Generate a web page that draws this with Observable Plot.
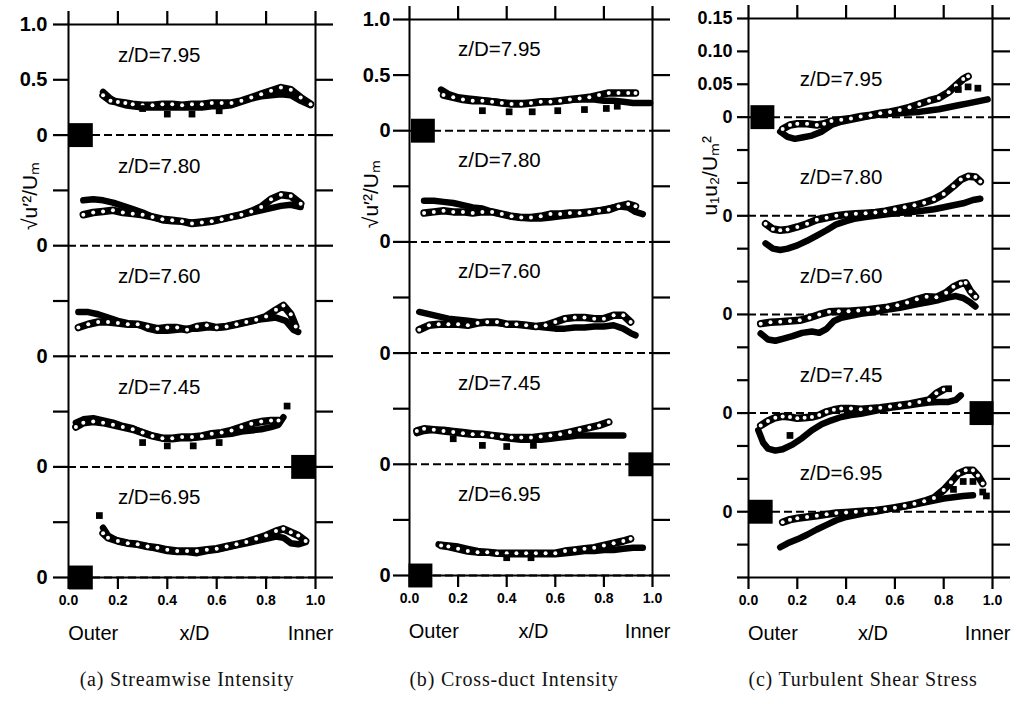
<!DOCTYPE html>
<html><head><meta charset="utf-8">
<script src="https://cdn.jsdelivr.net/npm/d3@7"></script>
<script src="https://cdn.jsdelivr.net/npm/@observablehq/plot@0.6"></script>
<style>
body{margin:0;background:#fff;}
#wrap{position:relative;width:1018px;height:704px;overflow:hidden;background:#fff;}
.panel{position:absolute;top:0;}
.cap{position:absolute;top:668px;font-family:"Liberation Serif","Times New Roman",serif;font-size:20px;color:#111;transform:translateX(-50%);white-space:nowrap;letter-spacing:0.8px;}
</style></head><body><div id="wrap"></div>
<script>
// ---------- labels & ticks ----------
const profiles = ["7.95", "7.80", "7.60", "7.45", "6.95"];
const xTicks = [0, 0.2, 0.4, 0.6, 0.8, 1.0];
const xTickLabels = ["0.0", "0.2", "0.4", "0.6", "0.8", "1.0"];
const abTicks = [1, 0.5, 0, -0.5, -1, -1.5, -2, -2.5, -3, -3.5, -4];
const abTickLabels = ["1.0", "0.5", "0", "", "0", "", "0", "", "0", "", "0"];
const cTicks = [0.15, 0.10, 0.05, 0, -0.05, -0.10, -0.15, -0.20, -0.25, -0.30, -0.35, -0.40, -0.45, -0.50, -0.55, -0.60, -0.65, -0.70];
const cTickLabels = ["0.15", "0.10", "0.05", "0", "", "", "0", "", "", "0", "", "", "0", "", "", "0", "", ""];
const abOffsets = [0, -1, -2, -3, -4];
const cOffsets = [0, -0.15, -0.30, -0.45, -0.60];
const bottomWords = ["Outer", "x/D", "Inner"];
const bottomWordX = [0.10, 0.51, 0.98];
const captions = ["(a) Streamwise Intensity", "(b) Cross-duct Intensity", "(c) Turbulent Shear Stress"];

// ---------- (a) streamwise intensity: [x/D, value] ----------
const a795open = [[0.14,0.36],[0.17,0.31],[0.20,0.30],[0.23,0.29],[0.26,0.28],[0.30,0.27],[0.34,0.27],[0.38,0.28],[0.42,0.28],[0.46,0.27],[0.50,0.28],[0.54,0.28],[0.58,0.29],[0.62,0.29],[0.66,0.29],[0.70,0.31],[0.74,0.34],[0.78,0.37],[0.82,0.40],[0.86,0.43],[0.90,0.41],[0.94,0.34],[0.98,0.28]];
const a795filled = [[0.14,0.39],[0.17,0.33],[0.20,0.29],[0.23,0.27],[0.26,0.26],[0.30,0.25],[0.34,0.25],[0.38,0.25],[0.42,0.25],[0.46,0.25],[0.50,0.25],[0.54,0.25],[0.58,0.26],[0.62,0.26],[0.66,0.27],[0.70,0.30],[0.74,0.33],[0.78,0.35],[0.82,0.36],[0.86,0.37],[0.90,0.36],[0.94,0.31],[0.98,0.27]];
const a780open = [[0.06,0.28],[0.10,0.30],[0.14,0.31],[0.18,0.32],[0.22,0.30],[0.26,0.29],[0.30,0.28],[0.34,0.26],[0.38,0.24],[0.42,0.23],[0.46,0.22],[0.50,0.20],[0.54,0.21],[0.58,0.22],[0.62,0.24],[0.66,0.26],[0.70,0.28],[0.74,0.31],[0.78,0.35],[0.82,0.42],[0.86,0.46],[0.90,0.45],[0.94,0.38]];
const a780filled = [[0.06,0.41],[0.10,0.42],[0.14,0.41],[0.18,0.39],[0.22,0.36],[0.26,0.33],[0.30,0.30],[0.34,0.26],[0.38,0.23],[0.42,0.22],[0.46,0.22],[0.50,0.21],[0.54,0.22],[0.58,0.23],[0.62,0.24],[0.66,0.26],[0.70,0.28],[0.74,0.30],[0.78,0.32],[0.82,0.34],[0.86,0.36],[0.90,0.37],[0.94,0.35]];
const a760open = [[0.04,0.26],[0.08,0.29],[0.12,0.31],[0.16,0.31],[0.20,0.30],[0.24,0.29],[0.28,0.29],[0.32,0.27],[0.36,0.25],[0.40,0.26],[0.44,0.26],[0.48,0.24],[0.52,0.27],[0.56,0.28],[0.60,0.26],[0.64,0.27],[0.68,0.29],[0.72,0.31],[0.76,0.33],[0.80,0.36],[0.84,0.42],[0.87,0.46],[0.90,0.38],[0.92,0.27]];
const a760filled = [[0.04,0.40],[0.08,0.40],[0.12,0.38],[0.16,0.35],[0.20,0.32],[0.24,0.30],[0.28,0.29],[0.32,0.25],[0.36,0.23],[0.40,0.23],[0.44,0.24],[0.48,0.25],[0.52,0.25],[0.56,0.26],[0.60,0.26],[0.64,0.27],[0.68,0.29],[0.72,0.31],[0.76,0.33],[0.80,0.34],[0.84,0.35],[0.88,0.32],[0.91,0.24],[0.93,0.22]];
const a745open = [[0.03,0.36],[0.06,0.40],[0.10,0.41],[0.14,0.40],[0.18,0.38],[0.22,0.36],[0.26,0.34],[0.30,0.31],[0.34,0.28],[0.38,0.26],[0.42,0.26],[0.46,0.27],[0.50,0.27],[0.54,0.28],[0.58,0.30],[0.62,0.31],[0.66,0.33],[0.70,0.36],[0.74,0.39],[0.78,0.41],[0.82,0.42],[0.85,0.42]];
const a745filled = [[0.03,0.40],[0.06,0.43],[0.10,0.44],[0.14,0.42],[0.18,0.40],[0.22,0.37],[0.26,0.35],[0.30,0.31],[0.34,0.28],[0.38,0.26],[0.42,0.25],[0.46,0.26],[0.50,0.26],[0.54,0.27],[0.58,0.28],[0.62,0.29],[0.66,0.30],[0.70,0.32],[0.74,0.33],[0.78,0.34],[0.82,0.36],[0.85,0.38],[0.87,0.45]];
const a695open = [[0.14,0.40],[0.16,0.36],[0.20,0.33],[0.24,0.31],[0.28,0.30],[0.32,0.28],[0.36,0.27],[0.40,0.25],[0.44,0.24],[0.48,0.24],[0.52,0.24],[0.56,0.25],[0.60,0.26],[0.64,0.28],[0.68,0.30],[0.72,0.32],[0.76,0.35],[0.80,0.38],[0.84,0.42],[0.87,0.44],[0.90,0.41],[0.93,0.38],[0.96,0.33]];
const a695filled = [[0.14,0.45],[0.16,0.38],[0.20,0.33],[0.24,0.31],[0.28,0.30],[0.32,0.28],[0.36,0.26],[0.40,0.24],[0.44,0.23],[0.48,0.23],[0.52,0.22],[0.56,0.24],[0.60,0.25],[0.64,0.27],[0.68,0.29],[0.72,0.31],[0.76,0.33],[0.80,0.35],[0.84,0.37],[0.87,0.36],[0.90,0.31],[0.93,0.30],[0.96,0.32]];
// isolated square symbols: [profile index, x/D, value]
const aSquares = [[0,0.30,0.24],[0,0.40,0.19],[0,0.50,0.19],[0,0.61,0.22],[3,0.30,0.22],[3,0.40,0.19],[3,0.505,0.19],[3,0.61,0.22],[3,0.885,0.55],[4,0.125,0.56]];
// large reference squares: [x/D, profile index]
const aBig = [[0.05,0],[0.95,3],[0.05,4]];

// ---------- (b) cross-duct intensity ----------
const b795open = [[0.14,0.32],[0.18,0.30],[0.22,0.28],[0.26,0.27],[0.30,0.27],[0.34,0.26],[0.38,0.25],[0.42,0.24],[0.46,0.24],[0.50,0.25],[0.54,0.26],[0.58,0.26],[0.62,0.27],[0.66,0.28],[0.70,0.29],[0.74,0.30],[0.78,0.32],[0.82,0.34],[0.86,0.34],[0.90,0.34],[0.93,0.34]];
const b795filled = [[0.13,0.37],[0.16,0.33],[0.20,0.30],[0.24,0.29],[0.28,0.28],[0.32,0.27],[0.36,0.26],[0.40,0.25],[0.44,0.25],[0.48,0.25],[0.52,0.25],[0.56,0.26],[0.60,0.26],[0.64,0.27],[0.68,0.28],[0.72,0.28],[0.76,0.28],[0.80,0.27],[0.84,0.27],[0.88,0.26],[0.92,0.25],[0.96,0.25],[0.99,0.25]];
const b780open = [[0.06,0.26],[0.10,0.27],[0.14,0.28],[0.18,0.27],[0.22,0.27],[0.26,0.26],[0.30,0.27],[0.34,0.27],[0.38,0.25],[0.42,0.23],[0.46,0.22],[0.50,0.22],[0.54,0.23],[0.58,0.25],[0.62,0.25],[0.66,0.26],[0.70,0.26],[0.74,0.27],[0.78,0.28],[0.82,0.29],[0.86,0.32],[0.90,0.34],[0.93,0.32]];
const b780filled = [[0.06,0.37],[0.10,0.37],[0.14,0.36],[0.18,0.35],[0.22,0.33],[0.26,0.31],[0.30,0.30],[0.34,0.27],[0.38,0.25],[0.42,0.23],[0.46,0.22],[0.50,0.21],[0.54,0.21],[0.58,0.22],[0.62,0.23],[0.66,0.24],[0.70,0.25],[0.74,0.26],[0.78,0.28],[0.82,0.30],[0.86,0.32],[0.90,0.31],[0.93,0.27],[0.96,0.25]];
const b760open = [[0.04,0.21],[0.08,0.25],[0.12,0.26],[0.16,0.26],[0.20,0.26],[0.24,0.25],[0.28,0.27],[0.32,0.28],[0.36,0.28],[0.40,0.26],[0.44,0.26],[0.48,0.25],[0.52,0.24],[0.56,0.25],[0.60,0.28],[0.64,0.31],[0.68,0.32],[0.72,0.32],[0.76,0.31],[0.80,0.31],[0.84,0.34],[0.88,0.34],[0.91,0.28]];
const b760filled = [[0.04,0.37],[0.08,0.35],[0.12,0.33],[0.16,0.31],[0.20,0.30],[0.24,0.29],[0.28,0.28],[0.32,0.27],[0.36,0.27],[0.40,0.26],[0.44,0.26],[0.48,0.25],[0.52,0.24],[0.56,0.23],[0.60,0.22],[0.64,0.22],[0.68,0.23],[0.72,0.23],[0.76,0.24],[0.80,0.24],[0.84,0.25],[0.88,0.22],[0.91,0.18],[0.93,0.16]];
const b745open = [[0.03,0.30],[0.06,0.32],[0.10,0.31],[0.14,0.30],[0.18,0.29],[0.22,0.28],[0.26,0.27],[0.30,0.27],[0.34,0.26],[0.38,0.25],[0.42,0.24],[0.46,0.24],[0.50,0.24],[0.54,0.25],[0.58,0.26],[0.62,0.27],[0.66,0.29],[0.70,0.31],[0.74,0.33],[0.78,0.35],[0.82,0.38]];
const b745filled = [[0.03,0.28],[0.06,0.30],[0.10,0.31],[0.14,0.31],[0.18,0.30],[0.22,0.29],[0.26,0.28],[0.30,0.27],[0.34,0.26],[0.38,0.24],[0.42,0.23],[0.46,0.22],[0.50,0.22],[0.54,0.22],[0.58,0.23],[0.62,0.24],[0.66,0.25],[0.70,0.26],[0.74,0.26],[0.78,0.26],[0.82,0.26],[0.86,0.26],[0.88,0.26]];
const b695open = [[0.13,0.27],[0.16,0.26],[0.20,0.24],[0.24,0.22],[0.28,0.21],[0.32,0.21],[0.36,0.20],[0.40,0.20],[0.44,0.20],[0.48,0.20],[0.52,0.20],[0.56,0.20],[0.60,0.20],[0.64,0.22],[0.68,0.23],[0.72,0.24],[0.76,0.25],[0.80,0.27],[0.84,0.29],[0.88,0.31],[0.91,0.33]];
const b695filled = [[0.12,0.28],[0.16,0.27],[0.20,0.26],[0.24,0.24],[0.28,0.22],[0.32,0.21],[0.36,0.20],[0.40,0.19],[0.44,0.19],[0.48,0.19],[0.52,0.19],[0.56,0.19],[0.60,0.19],[0.64,0.20],[0.68,0.21],[0.72,0.22],[0.76,0.22],[0.80,0.23],[0.84,0.23],[0.88,0.24],[0.92,0.25],[0.96,0.25]];
const bSquares = [[0,0.30,0.18],[0,0.41,0.17],[0,0.505,0.17],[0,0.61,0.18],[0,0.72,0.19],[0,0.81,0.20],[0,0.855,0.22],[3,0.18,0.23],[3,0.30,0.17],[3,0.40,0.16],[3,0.51,0.17],[4,0.40,0.16],[4,0.50,0.16]];
const bBig = [[0.055,0],[0.95,3],[0.045,4]];

// ---------- (c) turbulent shear stress ----------
const c795open = [[0.14,-0.018],[0.17,-0.012],[0.20,-0.010],[0.24,-0.010],[0.28,-0.012],[0.31,-0.010],[0.34,-0.006],[0.38,-0.004],[0.42,-0.002],[0.46,0.001],[0.50,0.003],[0.54,0.006],[0.58,0.008],[0.62,0.011],[0.66,0.015],[0.70,0.020],[0.74,0.025],[0.78,0.029],[0.82,0.038],[0.85,0.048],[0.88,0.058],[0.90,0.062]];
const c795filled = [[0.13,-0.022],[0.16,-0.030],[0.19,-0.033],[0.22,-0.031],[0.26,-0.028],[0.30,-0.022],[0.34,-0.012],[0.38,-0.007],[0.42,-0.004],[0.46,-0.001],[0.50,0.002],[0.54,0.004],[0.58,0.005],[0.62,0.006],[0.66,0.007],[0.70,0.008],[0.74,0.010],[0.78,0.012],[0.82,0.015],[0.86,0.018],[0.90,0.021],[0.94,0.024],[0.98,0.027]];
const c780open = [[0.07,-0.012],[0.10,-0.020],[0.13,-0.022],[0.16,-0.021],[0.20,-0.017],[0.24,-0.012],[0.28,-0.006],[0.32,-0.003],[0.36,0.000],[0.40,0.002],[0.44,0.003],[0.48,0.004],[0.52,0.005],[0.56,0.007],[0.60,0.010],[0.64,0.013],[0.68,0.016],[0.72,0.020],[0.76,0.025],[0.80,0.033],[0.84,0.045],[0.87,0.055],[0.90,0.060],[0.93,0.059],[0.95,0.052]];
const c780filled = [[0.07,-0.042],[0.10,-0.050],[0.13,-0.052],[0.16,-0.050],[0.20,-0.045],[0.24,-0.038],[0.28,-0.030],[0.32,-0.022],[0.36,-0.013],[0.40,-0.008],[0.44,-0.004],[0.48,-0.002],[0.52,0.000],[0.56,0.002],[0.60,0.004],[0.64,0.005],[0.68,0.006],[0.72,0.008],[0.76,0.010],[0.80,0.013],[0.84,0.016],[0.88,0.019],[0.92,0.024],[0.95,0.026]];
const c760open = [[0.05,-0.014],[0.09,-0.012],[0.13,-0.011],[0.17,-0.010],[0.21,-0.009],[0.25,-0.005],[0.29,0.000],[0.33,0.004],[0.37,0.005],[0.41,0.005],[0.45,0.006],[0.49,0.007],[0.53,0.009],[0.57,0.011],[0.61,0.014],[0.65,0.018],[0.69,0.023],[0.73,0.027],[0.77,0.026],[0.81,0.033],[0.84,0.042],[0.87,0.047],[0.89,0.048],[0.91,0.035],[0.93,0.027]];
const c760filled = [[0.05,-0.029],[0.08,-0.038],[0.11,-0.040],[0.14,-0.037],[0.18,-0.033],[0.22,-0.028],[0.26,-0.026],[0.29,-0.028],[0.32,-0.022],[0.35,-0.010],[0.38,-0.005],[0.42,-0.002],[0.46,0.001],[0.50,0.003],[0.54,0.005],[0.58,0.008],[0.62,0.010],[0.66,0.013],[0.70,0.016],[0.74,0.019],[0.78,0.022],[0.82,0.026],[0.85,0.028],[0.88,0.025],[0.91,0.018],[0.93,0.012]];
const c745open = [[0.05,-0.019],[0.08,-0.012],[0.11,-0.007],[0.14,-0.005],[0.17,-0.006],[0.20,-0.008],[0.23,-0.007],[0.26,-0.006],[0.29,-0.003],[0.32,0.002],[0.35,0.005],[0.38,0.007],[0.42,0.007],[0.46,0.006],[0.50,0.007],[0.54,0.008],[0.58,0.010],[0.62,0.012],[0.66,0.014],[0.70,0.017],[0.74,0.020],[0.77,0.030],[0.80,0.036]];
const c745filled = [[0.04,-0.026],[0.06,-0.045],[0.08,-0.054],[0.11,-0.057],[0.14,-0.055],[0.18,-0.048],[0.22,-0.038],[0.26,-0.026],[0.30,-0.017],[0.34,-0.011],[0.38,-0.006],[0.42,-0.003],[0.46,-0.001],[0.50,0.002],[0.54,0.005],[0.58,0.008],[0.62,0.010],[0.66,0.012],[0.70,0.014],[0.74,0.016],[0.78,0.017],[0.82,0.017],[0.85,0.020],[0.87,0.027]];
const c695open = [[0.14,-0.016],[0.17,-0.012],[0.20,-0.010],[0.24,-0.008],[0.28,-0.006],[0.32,-0.004],[0.36,-0.002],[0.40,-0.001],[0.44,0.000],[0.48,0.001],[0.52,0.002],[0.56,0.004],[0.60,0.006],[0.64,0.009],[0.68,0.012],[0.72,0.016],[0.76,0.021],[0.80,0.033],[0.83,0.045],[0.86,0.058],[0.89,0.063],[0.92,0.063],[0.94,0.055],[0.96,0.043]];
const c695filled = [[0.13,-0.054],[0.16,-0.048],[0.20,-0.042],[0.24,-0.035],[0.28,-0.027],[0.32,-0.020],[0.36,-0.013],[0.40,-0.008],[0.44,-0.005],[0.48,-0.002],[0.52,0.000],[0.56,0.003],[0.60,0.006],[0.64,0.008],[0.68,0.011],[0.72,0.014],[0.76,0.017],[0.80,0.020],[0.84,0.022],[0.88,0.024],[0.92,0.025]];
const cSquares = [[0,0.86,0.042],[0,0.90,0.046],[0,0.94,0.044],[3,0.17,-0.034],[3,0.82,0.037],[4,0.84,0.034],[4,0.88,0.046],[4,0.92,0.046],[4,0.96,0.030],[4,0.975,0.024]];
const cBig = [[0.057,0],[0.955,3],[0.05,4]];

// ---------- build ----------
const FONT = '"Liberation Sans", Arial, Helvetica, sans-serif';
const INK = "#000";
function rows(series, offsets, kind) {
  const out = [];
  series.forEach((pts, i) => pts.forEach(([x, v]) => out.push({x, y: v + offsets[i], key: kind + i})));
  return out;
}
function panel(cfg) {
  const openRows = rows(cfg.open, cfg.offsets, "o");
  const filledRows = rows(cfg.filled, cfg.offsets, "f");
  const sqRows = cfg.squares.map(([i, x, v]) => ({x, y: v + cfg.offsets[i]}));
  const bigRows = cfg.big.map(([x, i]) => ({x, y: cfg.offsets[i]}));
  const zRows = profiles.map((p, i) => ({text: "z/D=" + p, y: cfg.offsets[i] + cfg.zRel}));
  const bottomRows = bottomWords.map((t, i) => ({text: t, x: bottomWordX[i]}));
  const lab = (ticks, labels) => d => labels[ticks.indexOf(d)] ?? "";
  const svg = Plot.plot({
    width: cfg.width, height: 660,
    marginLeft: cfg.ml, marginRight: cfg.mr, marginTop: cfg.mt, marginBottom: 660 - cfg.bottom,
    style: {background: "transparent", fontFamily: FONT, color: INK, overflow: "visible"},
    x: {domain: [0, 1]},
    y: {domain: cfg.yDomain},
    marks: [
      Plot.ruleY(cfg.offsets, {stroke: INK, strokeWidth: 2, strokeDasharray: "8,4"}),
      Plot.frame({stroke: INK, strokeWidth: 2}),
      Plot.axisY({anchor: "left", ticks: cfg.yTicks, tickSize: cfg.tickL, tickPadding: cfg.padL, stroke: INK, strokeWidth: 2.2, strokeOpacity: 1,
        tickFormat: lab(cfg.yTicks, cfg.yLabels), fontSize: cfg.yFont, fontWeight: "bold", fill: INK, label: null, ariaLabel: "ylab"}),
      Plot.axisY({anchor: "right", ticks: cfg.yTicks, tickSize: 17, stroke: INK, strokeWidth: 2.2, strokeOpacity: 1, tickFormat: () => "", label: null}),
      Plot.axisX({anchor: "bottom", ticks: xTicks, tickSize: 12, tickPadding: 6, stroke: INK, strokeWidth: 2.2, strokeOpacity: 1,
        tickFormat: lab(xTicks, xTickLabels), fontSize: 14, fontWeight: "bold", fill: INK, label: null}),
      Plot.axisX({anchor: "top", ticks: xTicks, tickSize: 14, stroke: INK, strokeWidth: 2.2, strokeOpacity: 1, tickFormat: () => "", label: null}),
      Plot.line(filledRows, {x: "x", y: "y", z: "key", stroke: INK, strokeWidth: 6.5, strokeLinecap: "round", strokeLinejoin: "round"}),
      Plot.line(openRows, {x: "x", y: "y", z: "key", stroke: INK, strokeWidth: 7.5, strokeLinecap: "round", strokeLinejoin: "round"}),
      Plot.dot(openRows, {x: "x", y: "y", r: 2, fill: "white"}),
      Plot.dot(sqRows, {x: "x", y: "y", symbol: "square", r: 3.8, fill: INK}),
      Plot.dot(bigRows, {x: "x", y: "y", symbol: "square", r: 13.5, fill: INK}),
      Plot.text(zRows, {x: cfg.zX, y: "y", text: "text", textAnchor: "start", fontSize: 20.5, fill: INK}),
      Plot.text([cfg.ylabel], {y: cfg.ylabelY, text: d => d, frameAnchor: "left", textAnchor: "middle", lineAnchor: "middle", dx: -38, rotate: -90, fontSize: 21, fill: INK}),
      Plot.text(bottomRows, {x: "x", text: "text", frameAnchor: "bottom", textAnchor: "middle", lineAnchor: "middle", dy: 56, fontSize: 20, fill: INK})
    ]
  });
  // make sure the tick-label sizes are honoured
  const axisGroups = svg.querySelectorAll('g[aria-label$="tick label"]');
  axisGroups.forEach(g => {
    const isY = g.getAttribute("aria-label").startsWith("y");
    const size = isY ? cfg.yFont : 14;
    g.setAttribute("font-size", size);
    g.querySelectorAll("text").forEach(t => { t.setAttribute("font-size", size); t.setAttribute("font-weight", "bold"); });
  });
  return svg;
}

const panels = [
  {left: 0, width: 340, ml: 68, mr: 25, mt: 24, bottom: 577, yDomain: [-4, 1], yTicks: abTicks, yLabels: abTickLabels, yFont: 20,
   offsets: abOffsets, tickL: 15, padL: 6, zRel: 0.72, zX: 0.2, ylabel: "√u′²/Uₘ", ylabelY: -0.55,
   open: [a795open, a780open, a760open, a745open, a695open], filled: [a795filled, a780filled, a760filled, a745filled, a695filled],
   squares: aSquares, big: aBig, cap: 187},
  {left: 340, width: 340, ml: 69, mr: 28, mt: 19, bottom: 575, yDomain: [-4, 1], yTicks: abTicks, yLabels: abTickLabels, yFont: 20,
   offsets: abOffsets, tickL: 16, padL: 3, zRel: 0.73, zX: 0.2, ylabel: "√u′²/Uₘ", ylabelY: -0.57,
   open: [b795open, b780open, b760open, b745open, b695open], filled: [b795filled, b780filled, b760filled, b745filled, b695filled],
   squares: bSquares, big: bBig, cap: 514},
  {left: 680, width: 338, ml: 68, mr: 26, mt: 18, bottom: 577, yDomain: [-0.70, 0.15], yTicks: cTicks, yLabels: cTickLabels, yFont: 18,
   offsets: cOffsets, tickL: 11, padL: 5, zRel: 0.058, zX: 0.21, ylabel: "u₁u₂/Uₘ²", ylabelY: -0.089,
   open: [c795open, c780open, c760open, c745open, c695open], filled: [c795filled, c780filled, c760filled, c745filled, c695filled],
   squares: cSquares, big: cBig, cap: 863}
];

const wrap = document.getElementById("wrap");
panels.forEach((cfg, i) => {
  const d = document.createElement("div");
  d.className = "panel";
  d.style.left = cfg.left + "px";
  d.appendChild(panel(cfg));
  wrap.appendChild(d);
  const c = document.createElement("div");
  c.className = "cap";
  c.style.left = cfg.cap + "px";
  c.textContent = captions[i];
  wrap.appendChild(c);
});
</script></body></html>
